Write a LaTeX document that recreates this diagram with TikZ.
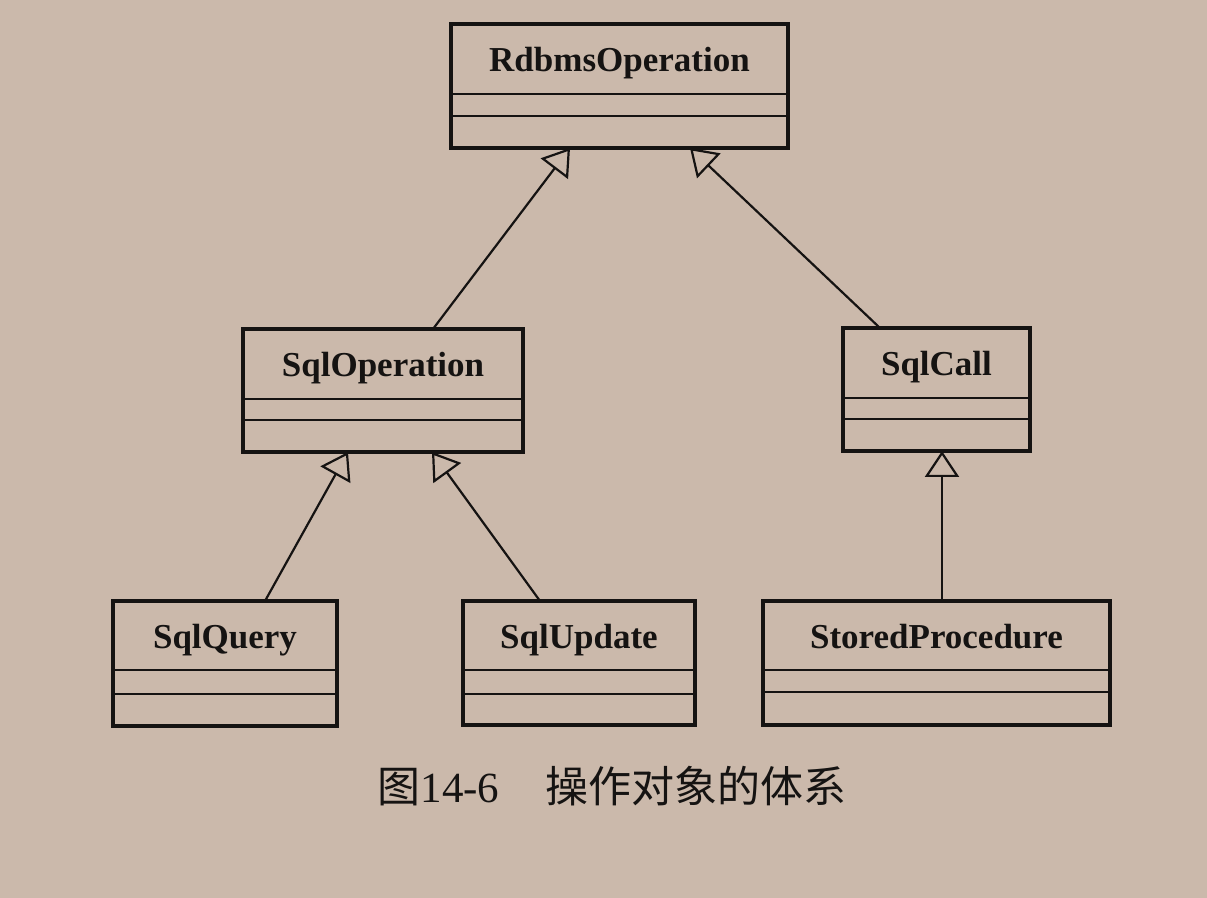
\documentclass[tikz,border=0pt]{standalone}
\usepackage{fontspec}
\setmainfont{Liberation Serif}
\newfontfamily\cjk{Noto Sans CJK SC}
\usetikzlibrary{arrows.meta}
\definecolor{bgcol}{HTML}{CBB9AB}
\definecolor{inkcol}{HTML}{151312}
\tikzset{
  clsbox/.style={draw=inkcol, line width=1.6pt, inner sep=0pt, outer sep=0pt},
  clsname/.style={inner sep=0pt, anchor=base, text=inkcol, font=\fontsize{17.5}{20}\selectfont\bfseries},
  complines/.style={draw=inkcol, line width=1.4pt},
  inherit/.style={draw=inkcol, line width=1.1pt, -{Triangle[open, length=13pt, width=17pt, line width=1.1pt]}}
}
\begin{document}
\begin{tikzpicture}[x=0.5pt, y=-0.5pt]
\fill[bgcol] (0,0) rectangle (1207,898);
\useasboundingbox (0,0) rectangle (1207,898);

% RdbmsOperation
\node[clsbox, minimum width=168.5pt, minimum height=62pt] (r) at (619.5,86) {};
\node[clsname] (rn) at (619.5,72) {RdbmsOperation};
\draw[complines] ([yshift=-35pt]r.north west) -- ([yshift=-35pt]r.north east);
\draw[complines] ([yshift=-46pt]r.north west) -- ([yshift=-46pt]r.north east);

% SqlOperation
\node[clsbox, minimum width=140pt, minimum height=61.5pt] (so) at (383,390.5) {};
\node[clsname] (son) at (383,377) {SqlOperation};
\draw[complines] ([yshift=-35pt]so.north west) -- ([yshift=-35pt]so.north east);
\draw[complines] ([yshift=-45.5pt]so.north west) -- ([yshift=-45.5pt]so.north east);

% SqlCall
\node[clsbox, minimum width=93.5pt, minimum height=61.5pt] (sc) at (936.5,389.5) {};
\node[clsname] (scn) at (936.5,376) {SqlCall};
\draw[complines] ([yshift=-35pt]sc.north west) -- ([yshift=-35pt]sc.north east);
\draw[complines] ([yshift=-45.5pt]sc.north west) -- ([yshift=-45.5pt]sc.north east);

% SqlQuery
\node[clsbox, minimum width=112pt, minimum height=62.5pt] (sq) at (225,663.5) {};
\node[clsname] (sqn) at (225,649) {SqlQuery};
\draw[complines] ([yshift=-34.5pt]sq.north west) -- ([yshift=-34.5pt]sq.north east);
\draw[complines] ([yshift=-46.5pt]sq.north west) -- ([yshift=-46.5pt]sq.north east);

% SqlUpdate
\node[clsbox, minimum width=116pt, minimum height=62pt] (su) at (579,663) {};
\node[clsname] (sun) at (579,649) {SqlUpdate};
\draw[complines] ([yshift=-34.5pt]su.north west) -- ([yshift=-34.5pt]su.north east);
\draw[complines] ([yshift=-46.5pt]su.north west) -- ([yshift=-46.5pt]su.north east);

% StoredProcedure
\node[clsbox, minimum width=173.5pt, minimum height=62pt] (sp) at (936.5,663) {};
\node[clsname] (spn) at (936.5,649) {StoredProcedure};
\draw[complines] ([yshift=-34.5pt]sp.north west) -- ([yshift=-34.5pt]sp.north east);
\draw[complines] ([yshift=-45.5pt]sp.north west) -- ([yshift=-45.5pt]sp.north east);

% generalisation connectors
\draw[inherit] ([xshift=25pt]so.north) -- ([xshift=-24.75pt]r.south);
\draw[inherit] ([xshift=-28.25pt]sc.north) -- ([xshift=35.25pt]r.south);
\draw[inherit] ([xshift=20pt]sq.north) -- ([xshift=-17.5pt]so.south);
\draw[inherit] ([xshift=-19.5pt]su.north) -- ([xshift=24.5pt]so.south);
\draw[inherit] ([xshift=2.75pt]sp.north) -- ([xshift=2.75pt]sc.south);

% caption
\node[inner sep=0pt, text=inkcol] (cap) at (612,786)
  {\fontsize{21.5}{24}\selectfont\cjk 图{\rmfamily 14-6}\hspace{23pt}操作对象的体系};
\end{tikzpicture}
\end{document}
